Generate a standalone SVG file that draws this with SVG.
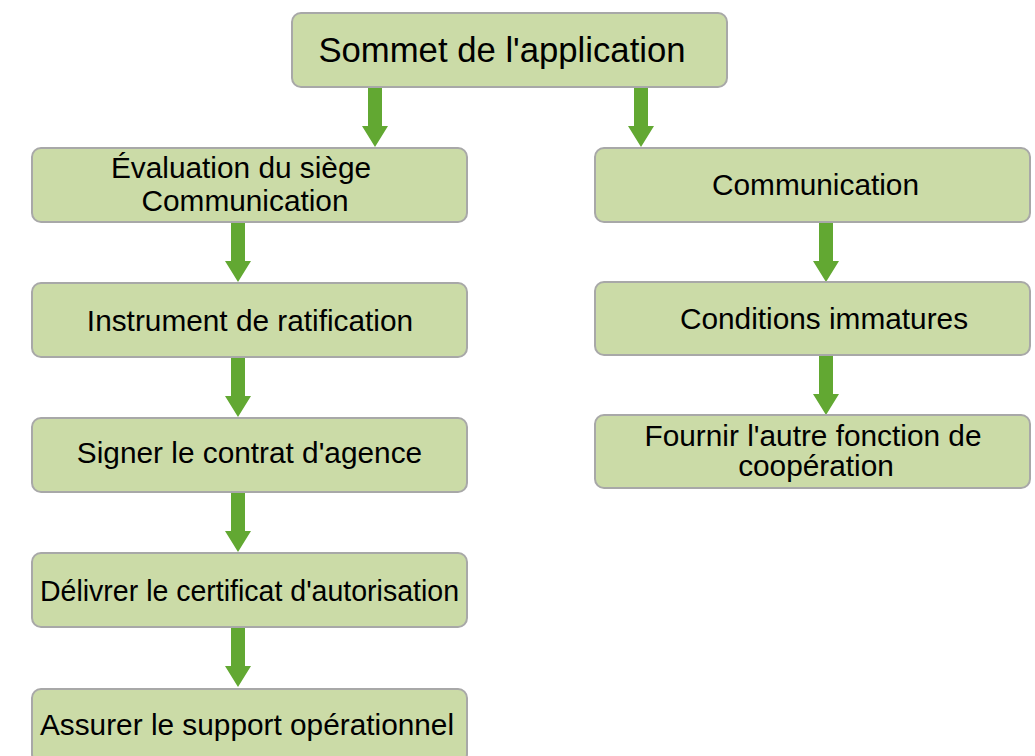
<svg xmlns="http://www.w3.org/2000/svg" width="1035" height="756" viewBox="0 0 1035 756">
<defs>
<style>
.box{fill:#cbdba7;stroke:#a8a8a8;stroke-width:2}
.t{font-family:"Liberation Sans",Arial,sans-serif;font-size:29.8px;fill:#000;text-anchor:middle}
.big{font-size:34.7px}
.arr{fill:#62a832}
</style>
<path id="arrow" d="M-7,0 H7 V38 H13 L0,59 L-13,38 H-7 Z"/>
</defs>
<rect width="1035" height="756" fill="#fff"/>
<g id="connectors" class="arr">
<use href="#arrow" x="375" y="88"/>
<use href="#arrow" x="641" y="88"/>
<use href="#arrow" x="238" y="223"/>
<use href="#arrow" x="238" y="358"/>
<use href="#arrow" x="238" y="493"/>
<use href="#arrow" x="238" y="628"/>
<use href="#arrow" x="826" y="223"/>
<use href="#arrow" x="826" y="356"/>
</g>
<g id="n-top"><rect class="box" x="292" y="13" width="435" height="74" rx="9"/><text class="t big" x="502" y="62">Sommet de l'application</text></g>
<g id="n-eval"><rect class="box" x="32" y="148" width="435" height="74" rx="9"/><text class="t" x="241" y="178">Évaluation du siège</text><text class="t" x="245" y="211">Communication</text></g>
<g id="n-instr"><rect class="box" x="32" y="283" width="435" height="74" rx="9"/><text class="t" x="250" y="331">Instrument de ratification</text></g>
<g id="n-sign"><rect class="box" x="32" y="418" width="435" height="74" rx="9"/><text class="t" x="249.5" y="463">Signer le contrat d'agence</text></g>
<g id="n-deliv"><rect class="box" x="32" y="553" width="435" height="74" rx="9"/><text class="t" x="249.5" y="601" textLength="419" lengthAdjust="spacingAndGlyphs">Délivrer le certificat d'autorisation</text></g>
<g id="n-assur"><rect class="box" x="32" y="689" width="435" height="74" rx="9"/><text class="t" x="247" y="735">Assurer le support opérationnel</text></g>
<g id="n-comm"><rect class="box" x="595" y="148" width="435" height="74" rx="9"/><text class="t" x="815.5" y="195">Communication</text></g>
<g id="n-cond"><rect class="box" x="595" y="282" width="435" height="73" rx="9"/><text class="t" x="824" y="329">Conditions immatures</text></g>
<g id="n-fourn"><rect class="box" x="595" y="415" width="435" height="73" rx="9"/><text class="t" x="813" y="446">Fournir l'autre fonction de</text><text class="t" x="816" y="476">coopération</text></g>
</svg>
